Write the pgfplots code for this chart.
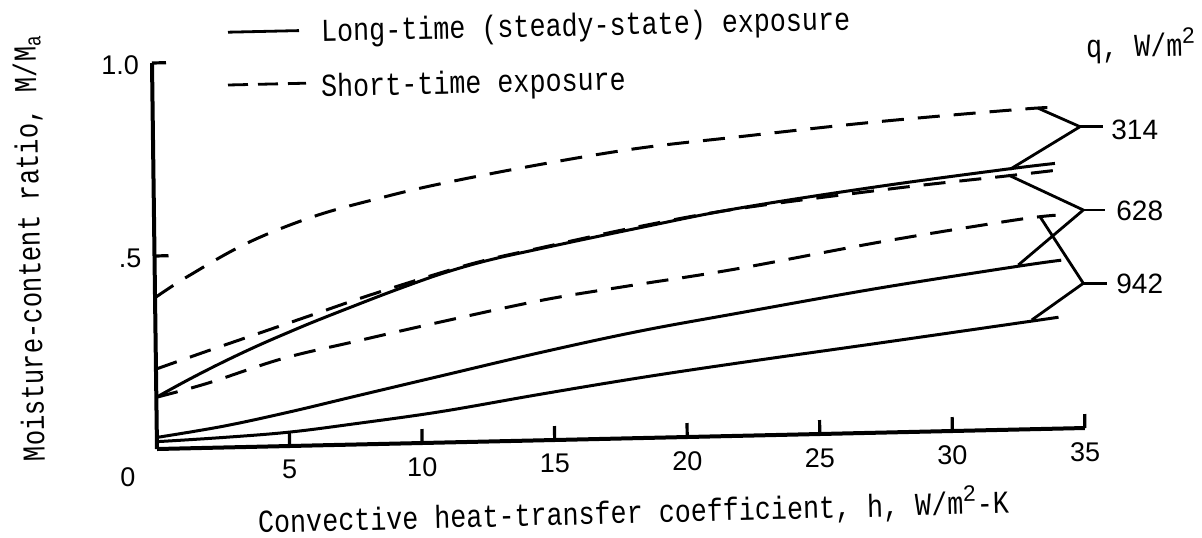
\documentclass[border=0pt]{standalone}
\usepackage{fontspec}
\usepackage{pgfplots}
\pgfplotsset{compat=1.18}
\newfontfamily\tw{Liberation Mono}[FakeStretch=0.835]
\newfontfamily\twy{Liberation Mono}[FakeStretch=0.80]
\newfontfamily\dig{Liberation Sans}
\newcommand\twf{\tw\fontsize{16}{19}\selectfont}
\newcommand\twyf{\twy\fontsize{16}{19}\selectfont}
\newcommand\digf{\dig\fontsize{13.5}{16}\selectfont}
\newcommand\digl{\dig\fontsize{14}{16}\selectfont}

\pgfplotstableread{
x v
0 0.392
1.24 0.445
3.5 0.528
6.02 0.593
8.54 0.637
10.8 0.670
14.45 0.713
18.22 0.750
22 0.774
27.27 0.805
32.93 0.830
33.94 0.831
}\curveA
\pgfplotstableread{
x v
0 0.134
1 0.170
2 0.204
3 0.236
4 0.266
5 0.294
6 0.321
7.5 0.359
9 0.396
10.8 0.437
12.5 0.468
14.45 0.495
18.22 0.5436
22 0.589
27.27 0.637
32.05 0.674
34 0.687
}\curveB
\pgfplotstableread{
x v
0 0.207
2 0.252
4 0.296
6 0.340
8 0.384
10.8 0.440
12.5 0.470
14.45 0.497
18.22 0.547
22 0.588
27.9 0.6315
32.05 0.6566
34 0.669
}\curveC
\pgfplotstableread{
x v
0 0.030
2.5 0.055
5 0.088
7.5 0.125
10.7 0.172
14.45 0.2266
18.22 0.2765
22 0.318
27.27 0.374
32.43 0.4217
34.19 0.436
}\curveD
\pgfplotstableread{
x v
0 0.134
1.94 0.1674
4.77 0.2266
7.53 0.267
10.8 0.313
14.57 0.3625
17.78 0.394
21.87 0.4318
27.4 0.494
32.43 0.5424
34 0.5527
}\curveE
\pgfplotstableread{
x v
0 0.019
2.5 0.026
5 0.036
7.5 0.054
10.7 0.080
14.45 0.119
18.22 0.156
22 0.189
27.27 0.232
32.93 0.279
34.06 0.2884
}\curveF

\begin{document}
\begin{tikzpicture}
\begin{axis}[
  at={(0pt,0pt)}, anchor=origin,
  x={(13.255pt,0.30pt)}, y={(-2.5pt,193pt)},
  xmin=0, xmax=35, ymin=0, ymax=1,
  enlargelimits=false,
  axis x line=bottom, axis y line=left,
  axis line style={line width=2pt,-},
  xtick={5,10,...,35}, ytick={0.5,1},
  xticklabels={5,10,15,20,25,30,35},
  yticklabels={.5,1.0},
  tick align=inside,
  major tick length=7pt,
  tick style={black,line width=1.6pt},
  tick label style={font=\digf},
  xticklabel style={yshift=-6pt, inner sep=1pt},
  yticklabel style={xshift=-3pt, yshift=-1pt},
  clip=false,
]
\coordinate (O) at (axis cs:0,0);
\addplot[line width=1.5pt, smooth, tension=0.6, dash pattern=on 11pt off 7pt] table[x=x,y=v] {\curveA};
\addplot[line width=1.5pt, smooth, tension=0.6] table[x=x,y=v] {\curveB};
\addplot[line width=1.5pt, smooth, tension=0.6, dash pattern=on 11pt off 7pt] table[x=x,y=v] {\curveC};
\addplot[line width=1.5pt, smooth, tension=0.6] table[x=x,y=v] {\curveD};
\addplot[line width=1.5pt, smooth, tension=0.6, dash pattern=on 11pt off 7pt] table[x=x,y=v] {\curveE};
\addplot[line width=1.5pt, smooth, tension=0.6] table[x=x,y=v] {\curveF};
\end{axis}
% brackets
\begin{scope}[shift={(O)}, line width=1.4pt, line join=miter]
\draw (440.65pt,170.35pt) -- (461.5pt,161.15pt) -- (426.5pt,139.85pt);
\draw (461.5pt,161.15pt) -- (473.15pt,161.15pt);
\draw (425.65pt,137pt) -- (463.15pt,119.5pt) -- (430.65pt,92pt);
\draw (463.15pt,119.5pt) -- (474pt,119.5pt);
\draw (441.5pt,116.15pt) -- (463.15pt,82.85pt) -- (437.35pt,64.5pt);
\draw (463.15pt,82.85pt) -- (474.85pt,82.85pt);
\node[anchor=west, inner sep=0pt, font=\digl] at (476.5pt,159.5pt) {314};
\node[anchor=west, inner sep=0pt, font=\digl] at (479pt,119pt) {628};
\node[anchor=west, inner sep=0pt, font=\digl] at (479pt,82.5pt) {942};
% legend
\draw (35.5pt,208.4pt) -- (71pt,209.2pt);
\draw[dash pattern=on 10pt off 5pt] (35.5pt,182pt) -- (74.5pt,182.9pt);
\node[anchor=base west, inner sep=0pt, rotate=1.3, font=\twf] at (81.5pt,203.65pt) {Long-time (steady-state) exposure};
\node[anchor=base west, inner sep=0pt, rotate=1.3, font=\twf] at (81.5pt,176.1pt) {Short-time exposure};
\node[anchor=base west, inner sep=0pt, rotate=1.3, font=\twf] at (464pt,195.5pt) {q, W/m\textsuperscript{\dig 2}};
% axis labels
\node[anchor=base west, inner sep=0pt, rotate=1.5, font=\twf] at (50pt,-42pt) {Convective heat-transfer coefficient, h, W/m\textsuperscript{\dig 2}-K};
\node[anchor=base, inner sep=0pt, rotate=91.3, font=\twyf] at (-58.5pt,100.5pt) {Moisture-content ratio, M/M\textsubscript{a}};
\node[inner sep=0pt, font=\digf] at (-14.5pt,-14pt) {0};
\end{scope}
\pgfresetboundingbox
\path[use as bounding box] ([shift={(-78.5pt,-44pt)}]O) rectangle ([shift={(522.5pt,224.5pt)}]O);
\end{tikzpicture}
\end{document}
